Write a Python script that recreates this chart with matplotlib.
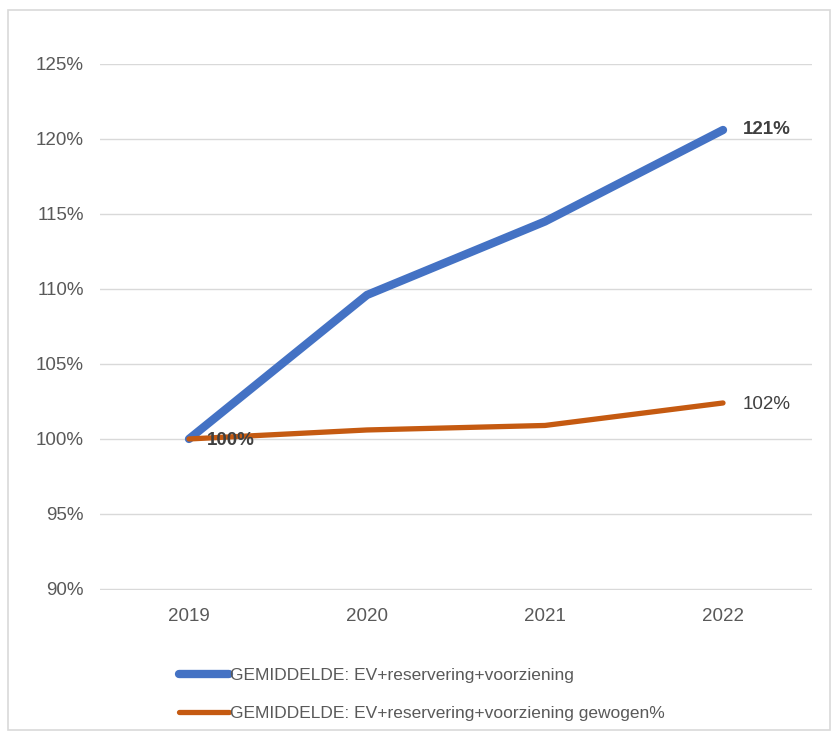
import matplotlib
matplotlib.use("Agg")
import matplotlib.pyplot as plt
from matplotlib.patches import Rectangle
from matplotlib.ticker import FuncFormatter

years = ["2019", "2020", "2021", "2022"]
series_names = ["GEMIDDELDE: EV+reservering+voorziening",
                "GEMIDDELDE: EV+reservering+voorziening gewogen%"]
blue_vals = [100.0, 109.6, 114.5, 120.6]
orange_vals = [100.0, 100.6, 100.9, 102.4]
y_ticks = [90, 95, 100, 105, 110, 115, 120, 125]

plt.rcParams['font.family'] = ['Liberation Sans', 'DejaVu Sans']

W, H = 838, 734
fig = plt.figure(figsize=(W / 100, H / 100), dpi=100)
fig.patch.set_facecolor("white")
fig.add_artist(Rectangle((8 / W, 1 - 730 / H), (830 - 8) / W, (730 - 10) / H,
                         transform=fig.transFigure, fill=False,
                         edgecolor="#D9D9D9", linewidth=1.2))

ax = fig.add_axes([100 / W, 1 - 590 / H, (812 - 100) / W, (590 - 64) / H])
x = list(range(len(years)))
l1, = ax.plot(x, blue_vals, color="#4472C4", linewidth=6, solid_capstyle="round",
              label=series_names[0], zorder=3)
l2, = ax.plot(x, orange_vals, color="#C55A11", linewidth=3.8, solid_capstyle="round",
              label=series_names[1], zorder=4)

ax.set_xlim(-0.5, len(years) - 0.5)
ax.set_ylim(89.93, 125)
ax.set_yticks(y_ticks)
ax.yaxis.set_major_formatter(FuncFormatter(lambda v, p: f"{v:.0f}%"))
ax.set_xticks(x)
ax.set_xticklabels(years)
ax.grid(axis="y", color="#D9D9D9", linewidth=1)
ax.set_axisbelow(True)
for s in ax.spines.values():
    s.set_visible(False)
ax.tick_params(length=0, labelsize=13.5, colors="#595959", pad=0)
ax.tick_params(axis="y", pad=11.5)
ax.tick_params(axis="x", pad=13)

# data labels
ax.annotate(f"{blue_vals[0]:.0f}%", (x[0], orange_vals[0]), xytext=(18, -2),
            textcoords="offset pixels", va="center", ha="left", fontsize=13.5,
            fontweight="bold", color="#404040", zorder=5)
ax.annotate(f"{blue_vals[-1]:.0f}%", (x[-1], blue_vals[-1]), xytext=(20, 0),
            textcoords="offset pixels", va="center", ha="left", fontsize=13.5,
            fontweight="bold", color="#404040")
ax.annotate(f"{orange_vals[-1]:.0f}%", (x[-1], orange_vals[-1]), xytext=(20, -2),
            textcoords="offset pixels", va="center", ha="left", fontsize=13.5,
            color="#404040")

leg = fig.legend(handles=[l1, l2], loc="upper left",
                 bbox_to_anchor=(170 / W, 1 - 659 / H), frameon=False,
                 fontsize=12.5, handlelength=2.9, handletextpad=0.05,
                 labelspacing=1.35, borderpad=0)
for t in leg.get_texts():
    t.set_color("#595959")

fig.savefig("out.png", dpi=100, facecolor="white")
